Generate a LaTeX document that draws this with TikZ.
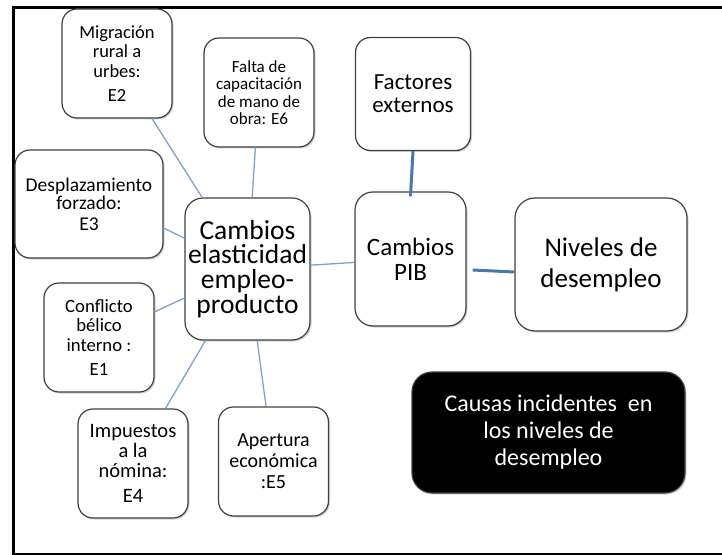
\documentclass[tikz,border=0pt]{standalone}
\usepackage{fontspec}
\setmainfont{Carlito}
\usetikzlibrary{shadows}

\definecolor{linkblue}{HTML}{7EA3CA}
\definecolor{pibblue}{HTML}{4A78AC}
\definecolor{boxedge}{HTML}{404040}

\tikzset{
	causa/.style={draw=boxedge, line width=1.2bp, fill=white, rounded corners=15bp, align=center, inner sep=2bp,
		drop shadow={opacity=0.35, shadow xshift=1.5bp, shadow yshift=-1.5bp}},
	enlace/.style={draw=linkblue, line width=1.3bp},
	enlacepib/.style={draw=pibblue, line width=3bp},
}
\newcommand{\fs}[2]{\fontsize{#1bp}{#2bp}\selectfont}

\begin{document}
\begin{tikzpicture}[x=1bp, y=-1bp]
		%%%%% START %%%%%
		\useasboundingbox (0, 0) rectangle (722, 555);
		
		\draw[line width=3bp] (722, 7.5) -- (13.5, 7.5) -- (13.5, 555);
		\draw[line width=2bp] (12, 554) -- (722, 554);
		
		\node[causa, minimum width=110bp, minimum height=109bp, font=\fs{18.5}{19.5}] (mig) at (117, 63.5) {Migración\\rural a\\urbes:\\[5bp]E2};
		\node[causa, minimum width=110bp, minimum height=109bp, font=\fs{17}{17.5}] (falta) at (259, 92.5) {Falta de\\capacitación\\de mano de\\obra: E6};
		\node[causa, minimum width=115bp, minimum height=113bp, font=\fs{23}{23}] (fact) at (413, 94) {Factores\\externos};
		\node[causa, minimum width=148bp, minimum height=108bp, font=\fs{19.5}{18}] (desp) at (89, 204) {Desplazamiento\\forzado:\\[3bp]E3};
		\node[causa, rounded corners=18bp, minimum width=125bp, minimum height=142bp, font=\fs{27.5}{24.8}] (ce) at (247.5, 269) {Cambios\\elasticidad\\empleo-\\producto};
		\node[causa, rounded corners=18bp, minimum width=111bp, minimum height=134bp, font=\fs{25}{25}] (pib) at (410.5, 259) {Cambios\\PIB};
		\node[causa, rounded corners=20bp, minimum width=172bp, minimum height=133bp, font=\fs{27}{31}] (niv) at (601, 264.5) {Niveles de\\desempleo};
		\node[causa, minimum width=110bp, minimum height=109bp, font=\fs{18.7}{19.5}] (conf) at (99, 337.5) {Conflicto\\bélico\\interno :\\[5bp]E1};
		\node[causa, minimum width=110bp, minimum height=109bp, font=\fs{20.5}{20}] (imp) at (133, 463.5) {Impuestos\\a la\\nómina:\\[5bp]E4};
		\node[causa, minimum width=110bp, minimum height=109bp, font=\fs{20}{21}] (ap) at (273.5, 461.5) {Apertura\\económica\\:E5};
		
		\node[causa, fill=black, text=white, rounded corners=20bp, minimum width=273bp, minimum height=121bp, font=\fs{24}{27}] (titulo) at (548.5, 432.5) {Causas incidentes\ \ en\\los niveles de\\desempleo};
		
		\draw[enlace] (mig) -- (ce);
		\draw[enlace] (falta) -- (ce);
		\draw[enlace] ([yshift=-24bp]desp.east) -- (ce);
		\draw[enlace] (conf) -- (ce);
		\draw[enlace] (imp) -- (ce);
		\draw[enlace] (ap) -- (ce);
		\draw[enlace] (ce) -- (pib);
		
		\draw[enlacepib] (fact.south) -- ([yshift=-5bp]pib.north);
		\draw[enlacepib] ([xshift=6bp, yshift=-11bp]pib.east) -- ([yshift=-7.5bp]niv.west);
		
		%%%%% END %%%%%
	\end{tikzpicture}
\end{document}
